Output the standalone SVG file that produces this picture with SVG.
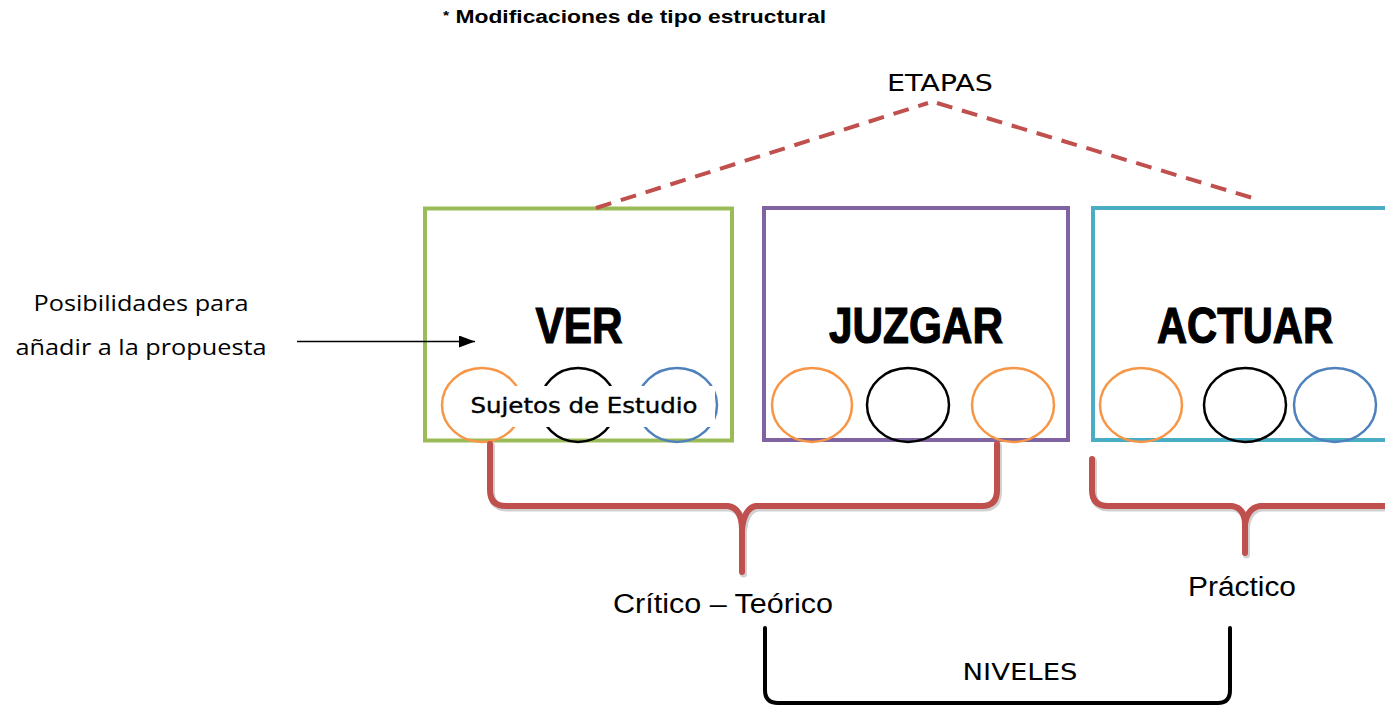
<svg xmlns="http://www.w3.org/2000/svg" width="1385" height="707" viewBox="0 0 1385 707">
<style>
  .box { fill: #FFFFFF; stroke-width: 4; }
  .big { font-family: "Liberation Sans", Arial, sans-serif; font-weight: bold; font-size: 50px; fill: #000; stroke: #000; stroke-width: 1.2; text-anchor: middle; }
  .circ { fill: none; stroke-width: 2.5; }
  .or { stroke: #F79646; }
  .bk { stroke: #000000; }
  .bl { stroke: #4F81BD; }
  .comic { font-family: "DejaVu Sans", sans-serif; fill: #000; }
  .arial { font-family: "Liberation Sans", Arial, sans-serif; fill: #000; }
  .calibri { font-family: "Open Sans", Lato, sans-serif; fill: #000; }
  .brace { fill: none; stroke: #C0504D; stroke-width: 6; stroke-linecap: round; stroke-linejoin: round; }
  .shadow { fill: none; stroke: #000; stroke-opacity: 0.18; stroke-width: 7; stroke-linecap: round; stroke-linejoin: round; }
</style>
<defs>
  <marker id="arrowbig" markerWidth="16" markerHeight="12" refX="16" refY="6" orient="auto" markerUnits="userSpaceOnUse">
    <path d="M0,0 L16,6 L0,12 Z" fill="#000"/>
  </marker>
</defs>
<rect width="1385" height="707" fill="#FFFFFF"/>

<g id="title">
  <text class="arial" x="443" y="23" font-weight="bold" font-size="17.5" textLength="383" lengthAdjust="spacingAndGlyphs"><tspan font-size="12" dy="-3">*</tspan><tspan dy="3"> Modificaciones  de tipo estructural</tspan></text>
</g>

<g id="etapas-label">
  <text class="comic" x="940" y="91" font-size="23" text-anchor="middle" textLength="106" lengthAdjust="spacingAndGlyphs">ETAPAS</text>
</g>

<g id="posibilidades">
  <text class="calibri" x="141" y="311" font-size="22" text-anchor="middle" textLength="215" lengthAdjust="spacingAndGlyphs">Posibilidades para</text>
  <text class="calibri" x="141" y="355" font-size="22" text-anchor="middle" textLength="251" lengthAdjust="spacingAndGlyphs">añadir a la propuesta</text>
</g>

<g id="ver">
  <rect class="box" x="425" y="208.5" width="307" height="232" stroke="#9BBB59"/>
  <text class="big" x="579" y="343" textLength="87" lengthAdjust="spacingAndGlyphs">VER</text>
  <ellipse class="circ or" cx="482" cy="405" rx="40" ry="37"/>
  <ellipse class="circ bk" cx="578" cy="405" rx="38" ry="37"/>
  <ellipse class="circ bl" cx="677" cy="405" rx="40" ry="37"/>
  <rect x="463" y="386" width="252" height="41" fill="#FFFFFF"/>
  <text class="comic" x="584" y="413" font-size="22" text-anchor="middle" stroke="#000" stroke-width="0.4" textLength="227" lengthAdjust="spacingAndGlyphs">Sujetos de Estudio</text>
</g>

<g id="juzgar">
  <rect class="box" x="764" y="208" width="304" height="232" stroke="#8064A2"/>
  <text class="big" x="916" y="343" textLength="174" lengthAdjust="spacingAndGlyphs">JUZGAR</text>
  <ellipse class="circ or" cx="812" cy="405" rx="40" ry="37"/>
  <ellipse class="circ bk" cx="908" cy="405" rx="41" ry="37"/>
  <ellipse class="circ or" cx="1013" cy="405" rx="41" ry="37"/>
</g>

<g id="actuar">
  <rect class="box" x="1093" y="208" width="310" height="232" stroke="#4BACC6"/>
  <text class="big" x="1245" y="343" textLength="176" lengthAdjust="spacingAndGlyphs">ACTUAR</text>
  <ellipse class="circ or" cx="1141" cy="405" rx="41" ry="37"/>
  <ellipse class="circ bk" cx="1245" cy="405" rx="41" ry="37"/>
  <ellipse class="circ bl" cx="1335" cy="405" rx="41" ry="37"/>
</g>

<g id="critico-label">
  <text class="arial" x="723" y="613" font-size="27" text-anchor="middle" textLength="220" lengthAdjust="spacingAndGlyphs">Crítico – Teórico</text>
</g>
<g id="practico-label">
  <text class="arial" x="1242" y="596" font-size="27" text-anchor="middle" textLength="108" lengthAdjust="spacingAndGlyphs">Práctico</text>
</g>
<g id="niveles-label">
  <text class="comic" x="1020" y="680" font-size="23" text-anchor="middle" textLength="115" lengthAdjust="spacingAndGlyphs">NIVELES</text>
</g>

<g id="connectors">
  <path d="M596 208 L928 103" fill="none" stroke="#C0504D" stroke-width="4" stroke-dasharray="16 10"/>
  <path d="M937 103 L1256 199" fill="none" stroke="#C0504D" stroke-width="4" stroke-dasharray="16 10"/>

  <line x1="297" y1="341.5" x2="475" y2="341.5" stroke="#000" stroke-width="1.6" marker-end="url(#arrowbig)"/>

  <path class="shadow" transform="translate(1.5,2)" d="M490 444 V490 Q490 506 506 506 H728 Q742 508 742 530 V572 M742 530 Q744 508 756 506 H982 Q997 506 997 490 V444"/>
  <path class="brace" d="M490 444 V490 Q490 506 506 506 H728 Q742 508 742 530 V572 M742 530 Q744 508 756 506 H982 Q997 506 997 490 V444"/>

  <path class="shadow" transform="translate(1.5,2)" d="M1092 459 V490 Q1092 506 1108 506 H1232 Q1245 508 1245 525 V553 M1245 525 Q1247 508 1260 506 H1390"/>
  <path class="brace" d="M1092 459 V490 Q1092 506 1108 506 H1232 Q1245 508 1245 525 V553 M1245 525 Q1247 508 1260 506 H1390"/>

  <path d="M765 628 V690 Q765 703 778 703 H1218 Q1230 703 1230 690 V628" fill="none" stroke="#000" stroke-width="4" stroke-linecap="round"/>
</g>
</svg>
